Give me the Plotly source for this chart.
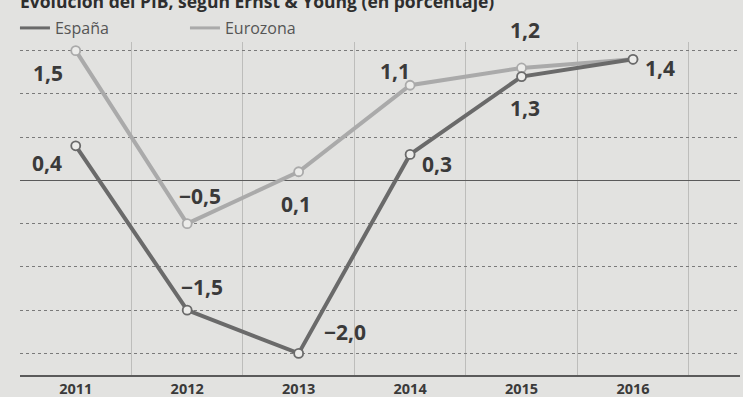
import plotly.graph_objects as go

years = ["2011", "2012", "2013", "2014", "2015", "2016"]
espana = [0.4, -1.5, -2.0, 0.3, 1.2, 1.4]
eurozona = [1.5, -0.5, 0.1, 1.1, 1.3, 1.4]
title_text = "Evolución del PIB, según Ernst & Young (en porcentaje)"

# label offsets in pixels (xshift, yshift); None = no label
esp_off = [(-29, -17), (15, 23), (46, 21), (27, -10), (3, 47), (27, -9)]
eur_off = [(-28, -22), (13, 28), (-3, -32), (-15, 14), (3, -40), None]

BG = "#e2e2e0"
ESP_C = "#6a6a6a"
EUR_C = "#aaaaaa"
TXT = "#3a3a3a"

idx = list(range(len(years)))

def fmt(v):
    return f"{v:.1f}".replace(".", ",").replace("-", "\u2212")

fig = go.Figure()
for name, vals, col in [("Eurozona", eurozona, EUR_C), ("España", espana, ESP_C)]:
    fig.add_trace(go.Scatter(
        x=idx, y=vals, mode="lines+markers", showlegend=False,
        line=dict(color=col, width=4),
        marker=dict(symbol="circle", size=9, color="#ececea",
                    line=dict(color=col, width=1.8)),
        hoverinfo="skip"))

# legend-only traces
for name, col in [("España", ESP_C), ("Eurozona", EUR_C)]:
    fig.add_trace(go.Scatter(x=[None], y=[None], mode="lines", name=name,
                             line=dict(color=col, width=3)))

anns = []
for vals, offs in [(espana, esp_off), (eurozona, eur_off)]:
    for i, (v, o) in enumerate(zip(vals, offs)):
        if o is None:
            continue
        anns.append(dict(x=i, y=v, xref="x", yref="y", text=fmt(v),
                         showarrow=False, xshift=o[0], yshift=o[1],
                         font=dict(family="Open Sans", size=21, color=TXT, weight="bold")))

anns.append(dict(x=-0.003, y=1.122, xref="paper", yref="paper", text=title_text,
                 showarrow=False, xanchor="left", yanchor="middle",
                 font=dict(family="Open Sans", size=17.5, color="#2e2e2e", weight="bold")))

fig.update_layout(
    width=743, height=397,
    margin=dict(l=20, r=3, t=42, b=22, autoexpand=False),
    paper_bgcolor=BG, plot_bgcolor=BG,
    annotations=anns,
    showlegend=True,
    legend=dict(orientation="h", x=-0.007, y=1.042, xanchor="left", yanchor="middle",
                entrywidth=125, entrywidthmode="pixels",
                font=dict(family="Open Sans", size=16, color="#555555"),
                bgcolor="rgba(0,0,0,0)", itemwidth=30),
    xaxis=dict(range=[-0.5, 5.96], tickmode="array", tickvals=idx, ticktext=years,
               showgrid=False, zeroline=False, automargin=False,
               showline=True, linecolor="#5a5a5a", linewidth=1.5,
               ticks="", tickfont=dict(family="Open Sans", size=14.5, color="#3a3a3a", weight="bold"),
               minor=dict(tickvals=[i + 0.5 for i in idx], showgrid=True,
                          gridcolor="#bdbdbb", gridwidth=1)),
    yaxis=dict(range=[-2.25, 1.6], dtick=0.5, tick0=0, showticklabels=False,
               showgrid=True, gridcolor="#7a7a7a", griddash="dot", gridwidth=1,
               zeroline=True, zerolinecolor="#5a5a5a", zerolinewidth=1.5,
               showline=False, ticks="", automargin=False),
)

fig.write_html(
    "out.html",
    config={"displayModeBar": False, "staticPlot": True},
    post_script="document.body.style.margin='0';document.body.style.overflow='hidden';",
)
